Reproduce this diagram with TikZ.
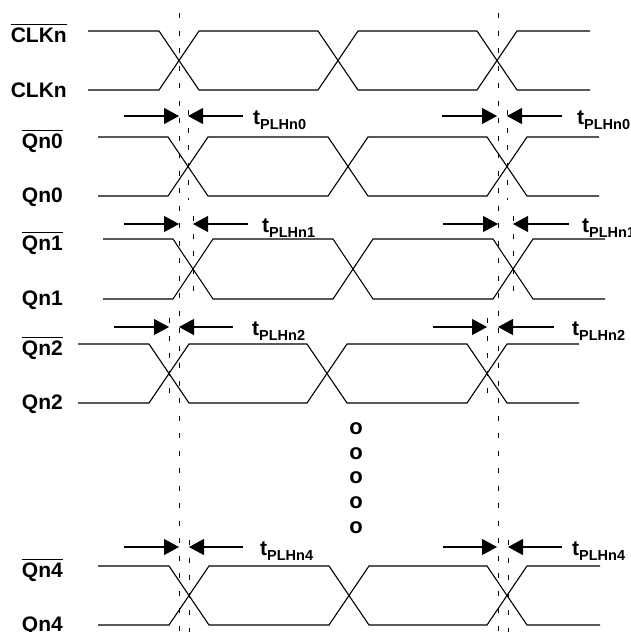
\documentclass[tikz,border=0pt]{standalone}
\usepackage{fontspec}
\setmainfont{Liberation Sans}
\usetikzlibrary{arrows.meta}

\newcommand{\nbar}[1]{\vbox{\hrule height 1.6pt\kern 2.2pt\hbox{#1}}}
\newcommand{\subfont}{\fontsize{14.5}{15}\selectfont}

\begin{document}
\begin{tikzpicture}[x=1pt, y=-1pt,
	signal/.style={line width=1.1pt},
	guide/.style={line width=1pt, dash pattern=on 5pt off 12.5pt},
	dimarrow/.style={line width=1.1pt, -{Triangle[length=15pt, width=16pt]}},
	sig label/.style={anchor=base east, inner sep=0pt},
	font=\fontsize{21}{24}\selectfont\bfseries]

\useasboundingbox (0,0) rectangle (631,632);

% waveforms: start, three crossings, end, high and low level
\foreach \nm/\sx/\ca/\cb/\cc/\ex/\hi/\lo in {
	clk/88/179/338/497/590/31/90,
	q0/98/188/348/507/599/137/196,
	q1/103/193/353/513/605/239/299,
	q2/78/169/327/487/579/344/403,
	q4/98/189/349/507/600/566/625} {
	\draw[signal] (\sx,\hi) -- (\ca-20,\hi) -- (\ca+20,\lo) -- (\cb-20,\lo) -- (\cb+20,\hi) -- (\cc-20,\hi) -- (\cc+20,\lo) -- (\ex,\lo); % inverted
	\draw[signal] (\sx,\lo) -- (\ca-20,\lo) -- (\ca+20,\hi) -- (\cb-20,\hi) -- (\cb+20,\lo) -- (\cc-20,\lo) -- (\cc+20,\hi) -- (\ex,\hi); % true
}

% signal names
\node[sig label] (clkb) at (67, 42) {\nbar{CLKn}};
\node[sig label] (clk)  at (67, 97) {CLKn};
\node[sig label] (q0b)  at (63,148) {\nbar{Qn0}};
\node[sig label] (q0)   at (63,202) {Qn0};
\node[sig label] (q1b)  at (63,250) {\nbar{Qn1}};
\node[sig label] (q1)   at (63,305) {Qn1};
\node[sig label] (q2b)  at (63,355) {\nbar{Qn2}};
\node[sig label] (q2)   at (63,409) {Qn2};
\node[sig label] (q4b)  at (63,577) {\nbar{Qn4}};
\node[sig label] (q4)   at (63,631) {Qn4};

% clock edge guides
\draw[guide] (179,13) -- (179,632);
\draw[guide] (498,13) -- (498,632);

% output edge guides
\foreach \gx/\gt/\gb in {188/110/200, 507/110/200, 193/216/302, 513/216/302,
	169/318/405, 487/318/405, 189/540/632, 508/540/632} {
	\draw[guide] (\gx,\gt) -- (\gx,\gb);
}

% delay arrows
\foreach \ay/\la/\lb/\lc/\ld in {116/124/179/243/188, 116/442/497/562/507,
	224/124/179/248/193, 224/443/498/569/513,
	327/114/169/233/179, 327/433/487/554/498,
	547/124/179/243/189, 547/443/497/562/508} {
	\draw[dimarrow] (\la,\ay) -- (\lb,\ay); % from the left
	\draw[dimarrow] (\lc,\ay) -- (\ld,\ay); % from the right
}

% delay names
\foreach \nm/\tx/\ty/\sb in {t0l/253/116/0, t0r/577/116/0, t1l/262/224/1, t1r/582/224/1,
	t2l/252/327/2, t2r/572/327/2, t4l/260/547/4, t4r/572/547/4} {
	\node[anchor=base west, inner sep=0pt] (\nm) at (\tx,\ty+8) {t\raisebox{-5pt}{\subfont PLHn\sb}};
}

% omitted outputs
\foreach \dy [count=\i] in {429, 454, 478, 503, 528} {
	\node[font=\fontsize{22}{24}\selectfont\bfseries] (dot\i) at (356,\dy) {o};
}

\end{tikzpicture}
\end{document}
